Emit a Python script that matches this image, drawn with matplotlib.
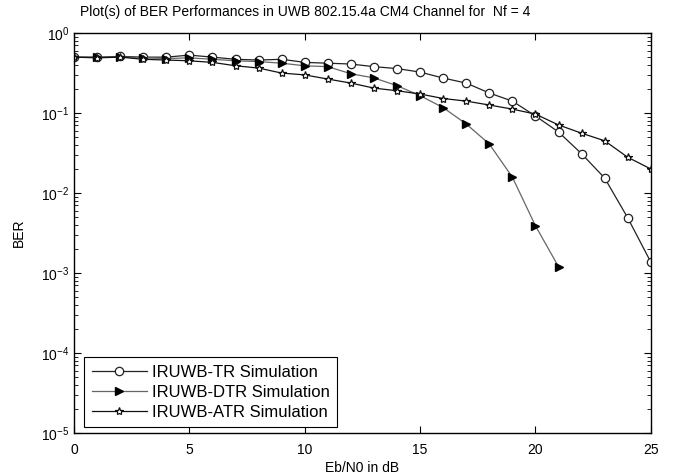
import matplotlib
matplotlib.use("Agg")
import matplotlib.pyplot as plt
import numpy as np
from matplotlib.ticker import LogLocator, NullFormatter, FixedLocator

plt.rcParams['font.family'] = ['Liberation Sans', 'DejaVu Sans']

ebn0_tr = list(range(0, 26))
ber_tr = [0.50, 0.50, 0.51, 0.50, 0.50, 0.53, 0.50, 0.47, 0.46, 0.47, 0.43, 0.42,
          0.41, 0.38, 0.36, 0.325, 0.274, 0.237, 0.178, 0.141, 0.092, 0.058,
          0.031, 0.0154, 0.0049, 0.00137]

ebn0_dtr = list(range(0, 22))
ber_dtr = [0.50, 0.50, 0.50, 0.49, 0.48, 0.49, 0.47, 0.45, 0.44, 0.42, 0.39, 0.38,
           0.31, 0.275, 0.22, 0.165, 0.117, 0.073, 0.041, 0.0158, 0.0039, 0.0012]

ebn0_atr = list(range(0, 26))
ber_atr = [0.50, 0.49, 0.50, 0.47, 0.46, 0.45, 0.43, 0.39, 0.365, 0.316, 0.30, 0.266,
           0.237, 0.205, 0.19, 0.173, 0.152, 0.141, 0.126, 0.112, 0.097, 0.071,
           0.056, 0.045, 0.028, 0.020]

labels = ['IRUWB-TR Simulation', 'IRUWB-DTR Simulation', 'IRUWB-ATR Simulation']
title = 'Plot(s) of BER Performances in UWB 802.15.4a CM4 Channel for  Nf = 4'
xticks = [0, 5, 10, 15, 20, 25]

fig = plt.figure(figsize=(6.73, 4.75), dpi=100)
ax = fig.add_axes([0.110, 0.0884, 0.857, 0.842])

ax.semilogy(ebn0_tr, ber_tr, '-', color='#222222', lw=0.9, marker='o', ms=6,
            mfc='white', mec='#222222', mew=0.9, label=labels[0])
ax.semilogy(ebn0_dtr, ber_dtr, '-', color='#666666', lw=0.9, marker='>', ms=5.5,
            mfc='black', mec='black', label=labels[1])
ax.semilogy(ebn0_atr, ber_atr, '-', color='#111111', lw=0.9, marker='*', ms=6,
            mfc='white', mec='#111111', mew=0.9, label=labels[2])

ax.set_xlim(0, 25)
ax.set_ylim(1e-5, 1)
ax.xaxis.set_major_locator(FixedLocator(xticks))
ax.yaxis.set_major_locator(LogLocator(base=10, numticks=10))
ax.yaxis.set_minor_locator(LogLocator(base=10, subs=np.arange(2, 10), numticks=20))
ax.yaxis.set_minor_formatter(NullFormatter())
ax.tick_params(which='both', direction='in', top=True, right=True, labelsize=10,
               colors='black')
ax.tick_params(axis='x', which='major', pad=7)
ax.tick_params(which='major', length=5, width=0.8)
ax.tick_params(which='minor', length=3, width=0.6)
for s in ax.spines.values():
    s.set_linewidth(1.0)
    s.set_color('black')

fig.text(80 / 673, 1 - 12 / 475, title, fontsize=10, ha='left', va='center')
ax.set_xlabel('Eb/N0 in dB', fontsize=10, labelpad=3)
ax.set_ylabel('BER', fontsize=10, labelpad=11)

leg = ax.legend(loc='lower left', bbox_to_anchor=(0.0173, 0.015), fontsize=12,
                handlelength=3.3, fancybox=False, framealpha=1, borderpad=0.45,
                labelspacing=0.3, handletextpad=0.3, borderaxespad=0)
leg.get_frame().set_edgecolor('black')
leg.get_frame().set_linewidth(0.8)

fig.savefig('out.png', dpi=100)
